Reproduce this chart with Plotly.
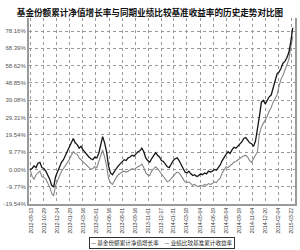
import pandas as pd
import plotly.graph_objects as go

title = "基金份额累计净值增长率与同期业绩比较基准收益率的历史走势对比图"
fund_name = "基金份额累计净值增长率"
bench_name = "业绩比较基准累计收益率"

fund = [0.0, 0.5, 2.0, 1.0, 3.5, 4.0, 1.0, 0.5, -1.0, -3.0,
        -5.5, -9.0, -10.0, -4.0, -1.0, 2.0, 4.0, 5.5, 8.0, 9.5,
        12.0, 15.5, 17.5, 15.0, 14.0, 12.0, 13.0, 11.0, 9.5, 8.0,
        7.0, 6.0, 5.5, 7.0, 6.5, 9.0, 14.0, 18.5, 15.0, 10.0,
        2.0, -2.0, -3.0, -1.0, 0.5, 2.0, 3.0, 4.5, 5.5, 5.0,
        6.5, 7.0, 8.0, 7.5, 9.0, 10.0, 10.5, 12.0, 10.0, 6.5,
        5.0, 4.0, 6.0, 7.5, 9.5, 8.0, 7.0, 5.0, 4.5, 3.0,
        1.5, 1.0, 3.0, 5.0, 6.0, 6.5, 5.0, 3.0, 0.5, -1.5,
        -2.0, -1.0, -2.5, -3.5, -3.0, -4.0, -3.5, -2.5, -3.0, -2.0,
        -2.5, -1.0, -1.5, -1.0, 0.0, -0.5, 1.0, 2.5, 5.0, 7.0,
        8.5, 10.0, 9.0, 11.0, 12.5, 12.0, 13.0, 14.5, 15.5, 17.5,
        18.0, 16.5, 15.0, 14.5, 13.0, 16.0, 22.0, 30.0, 38.0, 39.0,
        37.0, 39.0, 41.0, 42.0, 46.0, 50.0, 54.0, 55.0, 57.0, 60.0,
        61.0, 63.0, 66.0, 72.0, 80.0]

bench = [0.0, -4.0, -5.5, -3.0, -2.0, -1.0, -4.0, -4.5, -5.5, -7.5,
         -10.0, -13.5, -15.0, -9.0, -6.0, -3.5, -1.0, 0.5, 2.0, 4.0,
         5.5, 8.0, 10.0, 9.0, 8.5, 6.5, 5.5, 4.5, 3.5, 2.5,
         1.5, 0.0, 0.5, 1.5, 1.0, 4.0, 8.0, 11.0, 7.0, 2.0,
         -5.0, -7.5, -8.5, -6.0, -4.5, -3.0, -2.0, -1.5, -1.0, -1.5,
         -1.0, 0.0, 0.5, 0.0, 1.0, 1.5, 2.0, 3.0, 1.0, -2.0,
         -3.0, -3.5, -1.0, 0.5, 1.5, 0.5, -1.0, -3.0, -4.5, -6.0,
         -7.0, -6.5, -5.0, -3.5, -2.5, -1.5, -2.0, -3.5, -5.5, -7.0,
         -7.5, -7.0, -8.0, -9.0, -8.5, -9.5, -9.5, -9.0, -9.5, -8.5,
         -9.0, -8.0, -8.5, -8.0, -7.0, -7.5, -6.0, -5.0, -2.0, 0.0,
         1.5, 1.0, 2.0, 3.5, 4.0, 4.5, 5.5, 6.5, 7.0, 7.5,
         8.0, 7.0, 5.0, 4.0, 6.0, 8.0, 10.0, 20.0, 24.0, 26.0,
         28.0, 30.0, 33.0, 35.0, 38.0, 40.0, 42.0, 47.0, 51.0, 53.0,
         56.0, 58.0, 62.0, 69.0, 75.0]

dates = pd.date_range("2012-09-10", "2015-03-28", periods=len(fund))

x_ticks = ["2012-09-13", "2012-10-29", "2012-12-14", "2013-01-29", "2013-03-16",
           "2013-05-01", "2013-06-16", "2013-08-01", "2013-09-16", "2013-11-01",
           "2013-12-17", "2014-01-31", "2014-03-18", "2014-05-04", "2014-06-19",
           "2014-08-04", "2014-09-19", "2014-11-04", "2014-12-20", "2015-02-04",
           "2015-03-22"]
y_ticks = [-19.54, -9.77, 0.0, 9.77, 19.54, 29.31, 39.08, 48.85, 58.62, 68.39, 78.16]
y_text = ["-19.54%", "-9.77%", "0.00%", "9.77%", "19.54%", "29.31%", "39.08%",
          "48.85%", "58.62%", "68.39%", "78.16%"]

fig = go.Figure()
fig.add_trace(go.Scatter(x=dates, y=bench, mode="lines", name=bench_name,
                         line=dict(color="#858585", width=1.1)))
fig.add_trace(go.Scatter(x=dates, y=fund, mode="lines", name=fund_name,
                         line=dict(color="#151515", width=1.3)))

fig.update_layout(
    width=300, height=250,
    margin=dict(l=27, r=3, t=18, b=46),
    paper_bgcolor="white", plot_bgcolor="white",
    showlegend=False,
    title=dict(text="<b>" + title + "</b>", x=0.5, xanchor="center",
               y=0.95, yanchor="middle",
               font=dict(family="Noto Sans CJK SC", size=8.6, color="#111")),
    font=dict(family="Liberation Sans", color="#444"),
)
fig.update_xaxes(
    type="date", range=["2012-09-06", "2015-04-05"],
    tickvals=x_ticks, ticktext=x_ticks, tickangle=-90,
    tickfont=dict(size=5, color="#333"),
    showgrid=True, gridcolor="#9a9a9a", griddash="dot", gridwidth=1,
    showline=True, linecolor="#9a9a9a", linewidth=2,
    ticks="", zeroline=False,
)
fig.update_yaxes(
    range=[-19.54, 85.5],
    tickvals=y_ticks, ticktext=y_text,
    tickfont=dict(size=6, color="#555"),
    showgrid=True, gridcolor="#9a9a9a", griddash="dot", gridwidth=1,
    showline=True, linecolor="#9a9a9a", linewidth=2, mirror=True,
    ticks="", zeroline=False,
)
fig.add_annotation(
    xref="paper", yref="paper", x=0.5, y=-0.178, xanchor="center", yanchor="top",
    text="— " + fund_name + "　— " + bench_name,
    showarrow=False, bordercolor="#333", borderwidth=1, borderpad=1,
    font=dict(family="Noto Sans CJK SC", size=5.6, color="#222"),
)

fig.write_html("out.html")
